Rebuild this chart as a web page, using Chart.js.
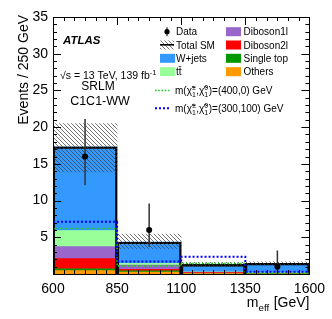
<!DOCTYPE html>
<html>
<head>
<meta charset="utf-8">
<script src="https://cdn.jsdelivr.net/npm/chart.js@4.4.0/dist/chart.umd.min.js"></script>
<style>
html, body { margin: 0; padding: 0; background: #fff; }
canvas { display: block; }
</style>
</head>
<body>
<canvas id="c" width="332" height="319"></canvas>
<script>
// bin edges of m_eff [GeV]
const binEdges = [600, 850, 1100, 1350, 1600];
const yTicks = [0, 5, 10, 15, 20, 25, 30, 35];

// SM backgrounds, stacked bottom -> top
const others    = [0.45, 0.27, 0.07, 0.03];
const singleTop = [0.27, 0.15, 0.03, 0.02];
const diboson2l = [1.38, 0.20, 0.10, 0.04];
const diboson1l = [1.62, 0.58, 0.05, 0.03];
const ttbar     = [2.20, 0.25, 0.05, 0.03];
const wjets     = [11.40, 2.90, 1.00, 1.30];

// total SM uncertainty band
const uncLo = [13.9, 3.5, 1.0, 1.25];
const uncHi = [20.5, 5.45, 1.6, 1.65];

// observed data (bin 3 empty)
const dataObs = [16, 6, null, 1];
const dataLo  = [12.1, 3.7, null, 0.2];
const dataHi  = [21.1, 9.6, null, 3.2];

// signal points
const sig400_0   = [6.2, 1.1, 1.45, 0.1];
const sig300_100 = [7.1, 1.7, 2.35, 0.3];

const FONT = "'Liberation Sans', Arial, Helvetica, sans-serif";
const COLORS = {
    others: "#ff9900",
    singleTop: "#009900",
    diboson2l: "#ff0000",
    diboson1l: "#9966cc",
    ttbar: "#99ff99",
    wjets: "#3399ff",
};

const canvas = document.getElementById("c");
const ctx = canvas.getContext("2d");

function makeHatch() {
    const s = 4;
    const c = document.createElement("canvas");
    c.width = s; c.height = s;
    const g = c.getContext("2d");
    g.strokeStyle = "rgba(60,60,60,0.7)";
    g.lineWidth = 1;
    g.beginPath();
    g.moveTo(0, 0); g.lineTo(s, s);
    g.moveTo(-1, s - 1); g.lineTo(1, s + 1);
    g.moveTo(s - 1, -1); g.lineTo(s + 1, 1);
    g.stroke();
    return ctx.createPattern(c, "repeat");
}
const hatch = makeHatch();

const centers = binEdges.slice(0, -1).map((e, i) => (e + binEdges[i + 1]) / 2);
const barBase = { type: "bar", grouped: false, barPercentage: 1, categoryPercentage: 1, borderWidth: 0 };

const datasets = [];
let base = centers.map(() => 0);
[[others, COLORS.others], [singleTop, COLORS.singleTop], [diboson2l, COLORS.diboson2l],
 [diboson1l, COLORS.diboson1l], [ttbar, COLORS.ttbar], [wjets, COLORS.wjets]].forEach(([vals, col]) => {
    const lo = base.slice();
    base = base.map((b, i) => b + vals[i]);
    datasets.push({ ...barBase, data: centers.map((x, i) => ({ x, y: [lo[i], base[i]] })),
        backgroundColor: col, order: 10 });
});
const totalSM = base;

datasets.push({ ...barBase, label: "Total SM", data: centers.map((x, i) => ({ x, y: [0, totalSM[i]] })),
    backgroundColor: "rgba(0,0,0,0)", borderColor: "#000", borderWidth: 1.6, borderSkipped: "start", order: 6 });
datasets.push({ ...barBase, label: "unc", data: centers.map((x, i) => ({ x, y: [uncLo[i], uncHi[i]] })),
    backgroundColor: hatch, order: 5 });

function stepPoints(vals) {
    return binEdges.map((x, i) => ({ x, y: vals[Math.min(i, vals.length - 1)] }));
}
datasets.push({ type: "line", data: stepPoints(sig400_0), stepped: true, borderColor: "#22cc22",
    borderWidth: 1.6, borderDash: [1.6, 1.6], pointRadius: 0, fill: false, order: 3 });
datasets.push({ type: "line", data: stepPoints(sig300_100), stepped: true, borderColor: "#0000ff",
    borderWidth: 2, borderDash: [2, 2], pointRadius: 0, fill: false, order: 2 });
datasets.push({ type: "line", label: "Data", data: centers.map((x, i) => ({ x, y: dataObs[i] })),
    showLine: false, pointRadius: 3, pointBorderWidth: 0, pointBackgroundColor: "#000", order: 1 });

function rich(g, parts, x, y, size, draw = true) {
    let cx = x;
    for (const p of parts) {
        if (typeof p === "string") {
            g.font = `${size}px ${FONT}`;
            if (draw) g.fillText(p, cx, y);
            cx += g.measureText(p).width;
        } else {
            g.font = `${size * 0.7}px ${FONT}`;
            let w = 0;
            if (p.sup) { if (draw) g.fillText(p.sup, cx, y - size * 0.42); w = Math.max(w, g.measureText(p.sup).width); }
            if (p.sub) { if (draw) g.fillText(p.sub, cx, y + size * 0.3); w = Math.max(w, g.measureText(p.sub).width); }
            cx += w + 0.5;
        }
    }
    return cx - x;
}

const decor = {
    id: "decor",
    beforeDatasetDraw(chart, args) {
        if (chart.data.datasets[args.index].label !== "Data") return;
        const { x: xs, y: ys } = chart.scales;
        const g = chart.ctx;
        g.save();
        g.strokeStyle = "#333";
        g.lineWidth = 1.5;
        centers.forEach((c, i) => {
            if (dataObs[i] == null) return;
            const px = xs.getPixelForValue(c);
            g.beginPath();
            g.moveTo(px, ys.getPixelForValue(dataLo[i]));
            g.lineTo(px, ys.getPixelForValue(dataHi[i]));
            g.stroke();
        });
        g.restore();
    },
    afterDatasetsDraw(chart) {
        const { x: xs, y: ys } = chart.scales;
        const { left: L, right: R, top: T, bottom: B } = chart.chartArea;
        const g = chart.ctx;
        g.save();
        g.strokeStyle = "#000";
        g.lineWidth = 1;
        g.beginPath();
        for (let v = 0; v <= 35; v += 1) {
            const py = Math.round(ys.getPixelForValue(v)) + 0.5;
            const len = v % 5 === 0 ? 8 : 4;
            g.moveTo(L, py); g.lineTo(L + len, py);
            g.moveTo(R, py); g.lineTo(R - len, py);
        }
        for (let k = 0; k <= 24; k++) {
            const px = Math.round(xs.getPixelForValue(600 + k * 250 / 6)) + 0.5;
            const len = k % 6 === 0 ? 8 : 4;
            g.moveTo(px, B); g.lineTo(px, B - len);
            g.moveTo(px, T); g.lineTo(px, T + len);
        }
        g.stroke();
        g.strokeRect(Math.round(L) + 0.5, Math.round(T) + 0.5, Math.round(R - L), Math.round(B - T));
        g.restore();
    },
    afterDraw(chart) {
        const g = chart.ctx;
        const { right: R } = chart.chartArea;
        g.save();
        g.fillStyle = "#000";
        g.textBaseline = "alphabetic";

        // y title, right-aligned to the top of the axis
        g.save();
        g.translate(28, 15);
        g.rotate(-Math.PI / 2);
        g.textAlign = "right";
        g.font = `14px ${FONT}`;
        g.fillText("Events / 250 GeV", 0, 0);
        g.restore();

        // x title
        const xt = ["m", { sub: "eff" }, " [GeV]"];
        const w = rich(g, xt, 0, 0, 14, false);
        rich(g, xt, R - w, 307, 14);

        // labels
        g.font = `italic bold 11.5px ${FONT}`;
        g.fillText("ATLAS", 63, 43.5);
        rich(g, ["√s = 13 TeV, 139 fb", { sup: "-1" }], 60, 79, 10.5);
        g.textAlign = "center";
        g.font = `12px ${FONT}`;
        g.fillText("SRLM", 98, 89.5);
        g.font = `12.5px ${FONT}`;
        g.fillText("C1C1-WW", 100, 104.5);
        g.textAlign = "left";

        // legend
        const rows = [35.2, 48.5, 61.8, 75.2];
        g.font = `10px ${FONT}`;
        // Data
        g.strokeStyle = "#000"; g.lineWidth = 1;
        g.beginPath(); g.moveTo(167, rows[0] - 8); g.lineTo(167, rows[0] + 1); g.stroke();
        g.beginPath(); g.arc(167, rows[0] - 3.5, 2.6, 0, Math.PI * 2); g.fill();
        g.fillText("Data", 176, rows[0]);
        // Total SM
        g.fillStyle = hatch; g.fillRect(160, rows[1] - 8, 14, 9);
        g.fillStyle = "#000"; g.fillRect(160, rows[1] - 4.5, 14, 1.6);
        g.fillText("Total SM", 176, rows[1]);
        const boxes = [
            [160, rows[2], COLORS.wjets, "W+jets"],
            [160, rows[3], COLORS.ttbar, "tt\u0304"],
            [226, rows[0], COLORS.diboson1l, "Diboson1l"],
            [226, rows[1], COLORS.diboson2l, "Diboson2l"],
            [226, rows[2], COLORS.singleTop, "Single top"],
            [226, rows[3], COLORS.others, "Others"],
        ];
        boxes.forEach(([bx, by, col, txt]) => {
            g.fillStyle = col; g.fillRect(bx, by - 8, 15, 9);
            g.fillStyle = "#000"; g.font = `10px ${FONT}`;
            g.fillText(txt, bx + (bx < 200 ? 16 : 17.5), by);
        });
        // signals
        const sigRows = [[94, "#22cc22", 1.6, [1.6, 1.6], "400,0"], [111.7, "#0000ff", 2, [2, 2], "300,100"]];
        sigRows.forEach(([sy, col, lw, dash, mass]) => {
            g.save();
            g.strokeStyle = col; g.lineWidth = lw; g.setLineDash(dash);
            g.beginPath(); g.moveTo(155, sy - 3.5); g.lineTo(171, sy - 3.5); g.stroke();
            g.restore();
            rich(g, ["m(", "\u03c7\u0303", { sup: "\u00b1", sub: "1" }, ",", "\u03c7\u0303", { sup: "0", sub: "1" },
                `)=(${mass}) GeV`], 175, sy, 10);
        });
        g.restore();
    },
};

new Chart(ctx, {
    type: "bar",
    data: { datasets },
    options: {
        responsive: false,
        animation: false,
        devicePixelRatio: 1,
        layout: { padding: { top: 17, right: 20, left: 0, bottom: 0 } },
        plugins: { legend: { display: false }, tooltip: { enabled: false } },
        scales: {
            x: {
                type: "linear", min: binEdges[0], max: binEdges[binEdges.length - 1], offset: false,
                grid: { display: false, drawTicks: false }, border: { display: false },
                afterBuildTicks: s => { s.ticks = binEdges.map(v => ({ value: v })); },
                afterFit: s => { s.height = 45; },
                ticks: { font: { family: FONT, size: 14 }, color: "#000", padding: 7, maxRotation: 0, autoSkip: false,
                    callback: v => String(v) },
            },
            y: {
                min: 0, max: 35,
                grid: { display: false, drawTicks: false }, border: { display: false },
                afterBuildTicks: s => { s.ticks = yTicks.map(v => ({ value: v })); },
                afterFit: s => { s.width = 53; },
                ticks: { font: { family: FONT, size: 14 }, color: "#000", padding: 5,
                    callback: v => (v === 0 ? "" : String(v)) },
            },
        },
    },
    plugins: [decor],
});
</script>
</body>
</html>
